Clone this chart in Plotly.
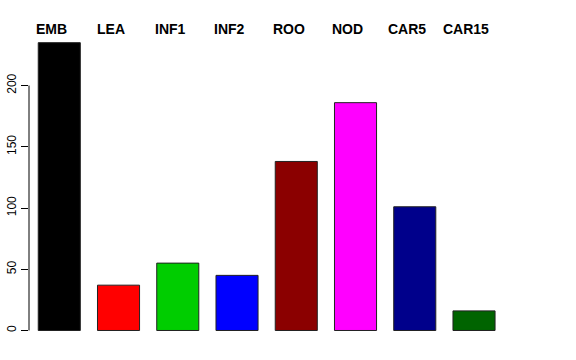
import plotly.graph_objects as go

categories = ["EMB", "LEA", "INF1", "INF2", "ROO", "NOD", "CAR5", "CAR15"]
values = [235, 37, 55, 45, 138, 186, 101, 16]
colors = ["#000000", "#FF0000", "#00CD00", "#0000FF", "#8B0000", "#FF00FF", "#00008B", "#006400"]
y_ticks = [0, 50, 100, 150, 200]

xpos = list(range(len(categories)))

fig = go.Figure()
fig.add_trace(go.Bar(
    x=xpos, y=values, width=0.71,
    marker=dict(color=colors, line=dict(color="#222222", width=1)),
    showlegend=False, hoverinfo="skip",
))

for i, name in enumerate(categories):
    fig.add_annotation(
        x=xpos[i] - 0.13, xref="x", y=1 + 3 / 310, yref="paper",
        text="<b>" + name + "</b>", showarrow=False,
        xanchor="center", yanchor="middle",
        font=dict(family="Liberation Sans, Arial, sans-serif", size=14, color="black"),
    )

# partial y axis line (0 .. 200)
fig.add_shape(type="line", xref="paper", yref="y", x0=0, x1=0, y0=y_ticks[0], y1=y_ticks[-1],
              line=dict(color="black", width=1))

fig.update_layout(
    width=576, height=360,
    margin=dict(l=29, r=30, t=32, b=18, autoexpand=False),
    paper_bgcolor="white", plot_bgcolor="white",
    font=dict(family="Liberation Sans, Arial, sans-serif", size=12, color="black"),
    xaxis=dict(visible=False, range=[-0.511, 8.215], automargin=False),
    yaxis=dict(range=[-9.4, 243.7], tickvals=y_ticks, ticktext=[str(v) for v in y_ticks],
               ticks="outside", ticklen=7, tickcolor="black", tickwidth=1,
               showgrid=False, zeroline=False, showline=False, tickangle=-90,
               automargin=False, tickfont=dict(size=12, color="black")),
)

fig.write_html("out.html", config={"displayModeBar": False},
               post_script="document.body.style.margin='0';")
